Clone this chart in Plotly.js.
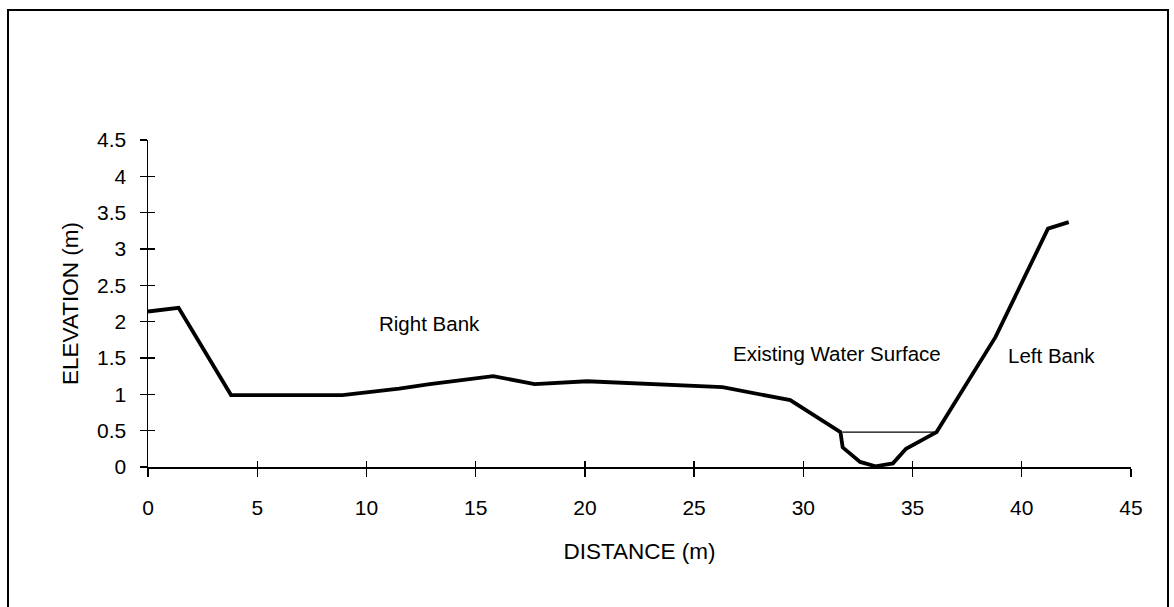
<!DOCTYPE html>
<html>
<head>
<meta charset="utf-8">
<script src="https://cdn.plot.ly/plotly-3.0.1.min.js"></script>
<style>
html,body{margin:0;padding:0;background:#fff;overflow:hidden;}
#frame{position:absolute;left:7px;top:9px;width:1162px;height:640px;border:2px solid #000;box-sizing:border-box;pointer-events:none;z-index:5;}
#chart{position:absolute;left:0;top:0;width:1174px;height:607px;}
</style>
</head>
<body>
<div id="chart"></div>
<div id="frame"></div>
<script>
// Ground profile (distance m, elevation m)
const distance = [0, 1.4, 3.8, 8.9, 11.5, 12.9, 15.8, 17.7, 20.1, 25.3, 26.3, 29.4, 31.7, 31.8, 32.6, 33.3, 34.1, 34.7, 36.1, 38.8, 41.2, 42.15];
const elevation = [2.14, 2.19, 0.99, 0.99, 1.08, 1.14, 1.25, 1.14, 1.18, 1.11, 1.10, 0.92, 0.48, 0.27, 0.07, 0.01, 0.05, 0.25, 0.48, 1.79, 3.28, 3.37];
// Existing water surface
const waterX = [31.8, 36.1];
const waterY = [0.48, 0.48];
// Labels
const labelText = ["Right Bank", "Existing Water Surface", "Left Bank"];
const labelX = [12.9, 31.55, 41.35];
const labelY = [1.98, 1.56, 1.54];
const xTicks = [0, 5, 10, 15, 20, 25, 30, 35, 40, 45];
const yTicks = [0, 0.5, 1, 1.5, 2, 2.5, 3, 3.5, 4, 4.5];

const FONT = 'Liberation Sans, Arial, sans-serif';

const traces = [
  {x: distance, y: elevation, type: 'scatter', mode: 'lines',
   line: {color: '#000', width: 3.8}, hoverinfo: 'x+y', showlegend: false},
  {x: waterX, y: waterY, type: 'scatter', mode: 'lines',
   line: {color: '#000', width: 1.3}, showlegend: false},
  {x: [xTicks[0]], y: [yTicks[0]], xaxis: 'x2', yaxis: 'y2', type: 'scatter', mode: 'markers',
   marker: {opacity: 0}, hoverinfo: 'skip', showlegend: false}
];

const layout = {
  width: 1174, height: 607,
  margin: {l: 148, r: 43, t: 140, b: 140},
  paper_bgcolor: '#fff', plot_bgcolor: '#fff',
  font: {family: FONT, color: '#000', size: 21},
  xaxis: {
    range: [0, 45], tickvals: xTicks, ticktext: xTicks.map(String),
    showgrid: false, zeroline: false, showline: true, linecolor: '#000', linewidth: 1.5,
    ticks: 'outside', ticklen: 8, tickwidth: 1.3, tickcolor: '#000',
    ticklabelstandoff: 13,
    tickfont: {size: 21, family: FONT},
    title: {text: 'DISTANCE (m)', font: {size: 22.5, family: FONT}, standoff: 25}
  },
  yaxis: {
    range: [0, 4.5], tickvals: yTicks, ticktext: yTicks.map(String),
    showgrid: false, zeroline: false, showline: true, linecolor: '#000', linewidth: 1.5,
    ticks: 'outside', ticklen: 7, tickwidth: 1.3, tickcolor: '#000',
    ticklabelstandoff: 9,
    tickfont: {size: 21, family: FONT},
    title: {text: 'ELEVATION (m)', font: {size: 22.5, family: FONT}, standoff: 12}
  },
  xaxis2: {
    overlaying: 'x', range: [0, 45], tickvals: xTicks, showticklabels: false,
    showgrid: false, zeroline: false, showline: false,
    ticks: 'inside', ticklen: 6, tickwidth: 1.3, tickcolor: '#000'
  },
  yaxis2: {
    overlaying: 'y', range: [0, 4.5], tickvals: yTicks, showticklabels: false,
    showgrid: false, zeroline: false, showline: false,
    ticks: 'inside', ticklen: 7, tickwidth: 1.3, tickcolor: '#000'
  },
  annotations: labelText.map((t, i) => ({
    x: labelX[i], y: labelY[i], xref: 'x', yref: 'y', text: t, showarrow: false,
    font: {size: 20.5, family: FONT, color: '#000'}
  })),
  showlegend: false
};

Plotly.newPlot('chart', traces, layout, {displayModeBar: false, staticPlot: true});
</script>
</body>
</html>
